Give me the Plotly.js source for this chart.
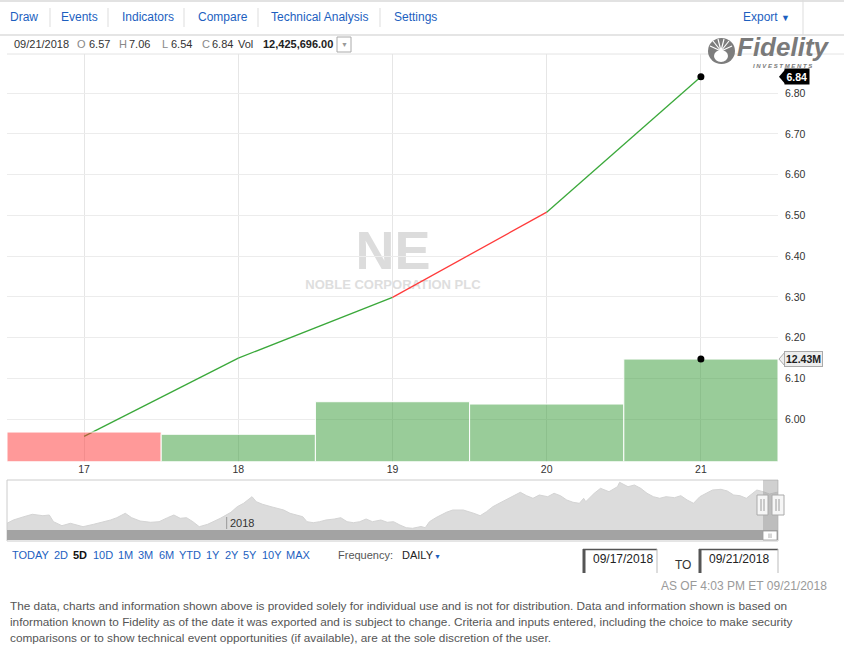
<!DOCTYPE html>
<html><head><meta charset="utf-8">
<script src="https://cdn.plot.ly/plotly-3.0.1.min.js"></script>
<style>html,body{margin:0;padding:0;background:#fff;overflow:hidden}#chart{width:844px;height:649px}</style>
</head><body><div id="chart"></div>
<script>
// ---- data ----
const days = [17, 18, 19, 20, 21];
const dayLabels = ['17', '18', '19', '20', '21'];
const closes = [5.958, 6.150, 6.299, 6.508, 6.84];
const volumes = [3590000, 3320000, 7260000, 6980000, 12425696];
const volUp = [false, true, true, true, true];
const segUp = [true, true, false, true];
const priceTicks = [6.00, 6.10, 6.20, 6.30, 6.40, 6.50, 6.60, 6.70, 6.80];
const priceTickLabels = ['6.00', '6.10', '6.20', '6.30', '6.40', '6.50', '6.60', '6.70', '6.80'];
const ohlcLabels = ['O', 'H', 'L', 'C'];
const ohlcValues = [6.57, 7.06, 6.54, 6.84];
const lastDate = '09/21/2018';
const startDate = '09/17/2018';
const navStart = '2017-09-19';
const navEnd = '2018-09-19';
const navDay = [0,3,8,12,17,20,22,26,30,33,36,41,46,49,52,56,59,63,68,72,76,79,82,85,88,91,95,98,101,106,109,112,114,116,118,121,125,128,131,134,137,140,142,145,148,151,155,158,161,164,167,170,173,177,180,183,186,189,192,196,198,200,203,208,211,216,221,224,227,230,233,237,240,243,246,249,252,256,259,262,265,268,271,273,274,278,281,283,285,289,290,294,297,300,303,306,309,312,316,319,322,325,328,331,334,338,341,344,347,350,353,355,358,361,365];
const navLevel = [6.7,10,13.3,15.7,14.3,15,8.3,4.3,6.7,5,3.3,5.7,8.3,10,12.3,16.7,12.3,9,7.7,8.3,12.3,15,11.7,12.3,8.3,3.3,5.7,8.3,11.7,17.7,23.3,26.7,30,33.3,28.3,25.7,23.3,21.7,20,16.7,15,13.3,8.3,7.3,8.3,10,11,12.3,8.3,7.3,8.3,11,8.3,10,7.7,8.3,5,2.3,1.7,3.5,2.3,8.3,12.3,17.7,20,20,16.7,14.3,18.3,23.3,26.7,31,35,37.7,34.3,31.7,35,33.3,36.7,34.3,30,27.7,26.7,31.7,28.3,36.7,41.7,40,38.3,43.3,47.7,43.3,45,41.7,36.7,33.3,31.7,33.3,32.3,34.3,30,26.7,33.3,36.7,40,40.7,39,35,34.3,31.7,36.7,40,38.3,36,38];
const navYearTick = '2018-01-01';
const toolbarItems = ['Draw', 'Events', 'Indicators', 'Compare', 'Technical Analysis', 'Settings'];
const rangeItems = ['TODAY', '2D', '5D', '10D', '1M', '3M', '6M', 'YTD', '1Y', '2Y', '5Y', '10Y', 'MAX'];
const activeRange = '5D';
const footerLines = [
 'The data, charts and information shown above is provided solely for individual use and is not for distribution. Data and information shown is based on',
 'information known to Fidelity as of the date it was exported and is subject to change. Criteria and inputs entered, including the choice to make security',
 'comparisons or to show technical event opportunities (if available), are at the sole discretion of the user.'
];

// ---- layout helpers ----
const W = 844, H = 649;
const FONT = 'Liberation Sans, Arial, Helvetica, sans-serif';
const X = p => p / W, Y = p => 1 - p / H;
const BLUE = '#1d5fbf';
const ann = [], shp = [];
function T(x, y, text, size, color, extra) {
  ann.push(Object.assign({xref:'paper', yref:'paper', x:X(x), y:Y(y), xanchor:'left', yanchor:'middle',
    showarrow:false, text:text, font:{size:size, color:color, family:FONT}}, extra || {}));
}
function L(x0, y0, x1, y1, color, width) {
  shp.push({type:'line', xref:'paper', yref:'paper', x0:X(x0), y0:Y(y0), x1:X(x1), y1:Y(y1), line:{color:color, width:width || 1}});
}
function R(x0, y0, x1, y1, fill, lineColor, lw) {
  shp.push({type:'rect', xref:'paper', yref:'paper', x0:X(x0), y0:Y(y0), x1:X(x1), y1:Y(y1), fillcolor:fill,
    line:{color:lineColor || 'rgba(0,0,0,0)', width:lineColor ? (lw || 1) : 0}});
}

// ---- traces ----
const traces = [];
traces.push({type:'bar', x:days, y:volumes, yaxis:'y2', xaxis:'x', width:1,
  marker:{color:volUp.map(u => u ? 'rgba(51,153,51,0.5)' : 'rgba(255,51,51,0.5)'), line:{color:'#ffffff', width:1}},
  hoverinfo:'skip', showlegend:false});
for (let i = 0; i < days.length - 1; i++) {
  traces.push({type:'scatter', mode:'lines', x:[days[i], days[i+1]], y:[closes[i], closes[i+1]], xaxis:'x', yaxis:'y',
    line:{color: segUp[i] ? '#3aa83a' : '#ff3b3b', width:1.3}, hoverinfo:'skip', showlegend:false});
}
const n = days.length - 1;
traces.push({type:'scatter', mode:'markers', x:[days[n]], y:[closes[n]], xaxis:'x', yaxis:'y', marker:{color:'#000', size:7}, showlegend:false, hoverinfo:'skip'});
traces.push({type:'scatter', mode:'markers', x:[days[n]], y:[volumes[n]], xaxis:'x', yaxis:'y2', marker:{color:'#000', size:7}, showlegend:false, hoverinfo:'skip'});
const navDates = navDay.map(d => new Date(Date.UTC(2017, 8, 19) + d * 864e5).toISOString().slice(0, 10));
traces.push({type:'scatter', mode:'lines', x:navDates, y:navLevel, xaxis:'x2', yaxis:'y3', fill:'tozeroy',
  fillcolor:'#dcdcdc', line:{color:'#d4d4d4', width:1}, showlegend:false, hoverinfo:'skip'});

// ---- page chrome ----
L(0, 1, W, 1, '#e2e2e2', 2);
const tbX = [8, 59, 120, 196, 269, 392];
toolbarItems.forEach((t, i) => T(tbX[i], 17, t, 12, BLUE));
[50, 108, 184, 258, 380].forEach(x => L(x, 8, x, 27, '#dddddd', 1));
T(741, 17, 'Export <span style="font-size:9px">▼</span>', 12, BLUE);
L(803, 0, 803, 35, '#dddddd', 1);
L(0, 35, W, 35, '#dddddd', 1.5);
// OHLC header
T(12, 44, lastDate, 11, '#333');
const ohX = [75, 117, 160, 200];
const ohVX = [87, 127, 169, 210];
ohlcLabels.forEach((l, i) => {
  T(ohX[i], 44, l, 11, '#888');
  T(ohVX[i], 44, ohlcValues[i].toFixed(2), 11, '#333');
});
T(236, 44, 'Vol', 11, '#333');
T(261, 44, '<b>' + volumes[n].toLocaleString('en-US', {minimumFractionDigits:2}) + '</b>', 11, '#222');
R(337, 37, 351, 52, '#fff', '#aaaaaa', 1);
T(344, 44.5, '▼', 7, '#999', {xanchor:'center'});
L(7, 54, W, 54, '#e4e4e4', 1);
// Fidelity logo
shp.push({type:'circle', xref:'paper', yref:'paper', x0:X(708), y0:Y(64), x1:X(735), y1:Y(38), fillcolor:'#7d7d7d', line:{width:0}});
[[721,51,710,46],[721,51,713,41],[721,51,718,39],[721,51,724,39],[721,51,729,41],[721,51,732,46]].forEach(a => L(a[0], a[1], a[2], a[3], '#ffffff', 1.2));
shp.push({type:'circle', xref:'paper', yref:'paper', x0:X(714), y0:Y(62), x1:X(728), y1:Y(50), fillcolor:'#ffffff', line:{width:0}});
T(735, 47.5, '<b><i>Fidelity</i></b>', 26, '#7a7a7a');
T(751, 66.5, '<b><i>I N V E S T M E N T S</i></b>', 6, '#7a7a7a');

// watermark (below traces)
shp.push({type:'rect', xref:'paper', yref:'paper', x0:X(330), x1:X(456), y0:Y(268), y1:Y(222), layer:'below',
  line:{width:0}, fillcolor:'rgba(0,0,0,0)',
  label:{text:'NE', textposition:'middle center', font:{size:54, color:'#dcdcdc', family:FONT, weight:'bold'}}});
shp.push({type:'rect', xref:'paper', yref:'paper', x0:X(290), x1:X(496), y0:Y(291), y1:Y(275), layer:'below',
  line:{width:0}, fillcolor:'rgba(0,0,0,0)',
  label:{text:'NOBLE CORPORATION PLC', textposition:'middle center', font:{size:13, color:'#dedede', family:FONT, weight:'bold'}}});

// last value tags
const cHalf = 7 / 407.5, vHalf = 7 * 49.35e6 / 407.7;
shp.push({type:'path', xref:'paper', yref:'y', fillcolor:'#000', line:{width:0},
  path:`M ${X(779)},${closes[n]} L ${X(785)},${closes[n] + cHalf} L ${X(785)},${closes[n] - cHalf} Z`});
ann.push({xref:'paper', yref:'y', x:X(784), y:closes[n], xanchor:'left', yanchor:'middle', showarrow:false,
  text:'<b>' + closes[n].toFixed(2) + '</b>', bgcolor:'#000', borderpad:1.5, font:{size:10.5, color:'#fff', family:FONT}});
shp.push({type:'path', xref:'paper', yref:'y2', fillcolor:'#eeeeee', line:{color:'#aaaaaa', width:1},
  path:`M ${X(779)},${volumes[n]} L ${X(785)},${volumes[n] + vHalf} L ${X(785)},${volumes[n] - vHalf} Z`});
ann.push({xref:'paper', yref:'y2', x:X(784), y:volumes[n], xanchor:'left', yanchor:'middle', showarrow:false,
  text:'<b>' + (volumes[n] / 1e6).toFixed(2) + 'M</b>', bgcolor:'#eeeeee', bordercolor:'#aaaaaa', borderwidth:1, borderpad:1,
  font:{size:10.5, color:'#222', family:FONT}});

// navigator chrome
R(7, 480, 778, 541, 'rgba(0,0,0,0)', '#cccccc', 1);
R(7, 530, 778, 540, '#a3a3a3');
R(763, 480, 778, 530, 'rgba(150,150,150,0.45)');
R(763, 531, 777, 540, '#ffffff', '#999999', 0.8);
L(769, 533.5, 769, 538, '#999', 0.8); L(771, 533.5, 771, 538, '#999', 0.8);
R(757, 495, 768, 515, '#f6f6f6', '#aaaaaa', 1);
R(772, 495, 784, 515, '#f6f6f6', '#aaaaaa', 1);
L(761, 499, 761, 511, '#888', 0.8); L(764, 499, 764, 511, '#888', 0.8);
L(776, 499, 776, 511, '#888', 0.8); L(779, 499, 779, 511, '#888', 0.8);
shp.push({type:'line', xref:'x2', yref:'paper', x0:navYearTick, x1:navYearTick, y0:Y(517), y1:Y(529), line:{color:'#999', width:1}});
ann.push({xref:'x2', yref:'paper', x:navYearTick, y:Y(522.5), xanchor:'left', yanchor:'middle', xshift:1, showarrow:false,
  text:navYearTick.slice(0, 4), font:{size:11, color:'#333', family:FONT}});

// range buttons
const rbX = [10, 52, 71, 91, 116, 136, 157, 177, 204, 223, 241, 260, 284];
rangeItems.forEach((t, i) => {
  if (t === activeRange) T(rbX[i], 555, '<b>' + t + '</b>', 11, '#111');
  else T(rbX[i], 555, t, 11, BLUE);
});
T(336, 555, 'Frequency:', 11, '#555');
T(400, 555, 'DAILY', 11, '#222');
T(432, 556, '▼', 7, BLUE);
// date boxes
function dateBox(x0, x1, text) {
  L(x0 + 1, 549, x0 + 1, 573, '#555', 3);
  L(x0, 549.5, x1, 549.5, '#555', 1.5);
  L(x1, 549, x1, 573, '#bbbbbb', 1);
  T(x0 + 8, 559, text, 12, '#222');
}
dateBox(583, 657, startDate);
T(673, 565, 'TO', 12, '#333');
dateBox(699, 778, lastDate);
T(829, 586, 'AS OF 4:03 PM ET ' + lastDate, 12, '#9a9a9a', {xanchor:'right'});
footerLines.forEach((t, i) => T(8, 606 + i * 16, t, 11.8, '#555'));

const layout = {
  width: W, height: H, margin:{l:0, r:0, t:0, b:0},
  paper_bgcolor:'#fff', plot_bgcolor:'rgba(0,0,0,0)', showlegend:false,
  font:{family:FONT, color:'#333'},
  xaxis:{domain:[X(7), X(778)], range:[16.5, 21.5], tickvals:days, ticktext:dayLabels, showgrid:true, gridcolor:'#e6e6e6',
    zeroline:false, showline:false, ticks:'', tickfont:{size:10.5, color:'#333'}, anchor:'y', fixedrange:true},
  yaxis:{domain:[Y(461.7), Y(54)], range:[5.896, 6.896], side:'right', tickvals:priceTicks, ticktext:priceTickLabels,
    showgrid:true, gridcolor:'#ececec', zeroline:false, showline:false, ticks:'', ticklabelstandoff:6,
    tickfont:{size:10.5, color:'#333'}, anchor:'x', fixedrange:true},
  yaxis2:{overlaying:'y', range:[0, 49.35e6], visible:false, fixedrange:true},
  xaxis2:{domain:[X(7), X(778)], type:'date', range:[navStart, navEnd], anchor:'y3', showgrid:false, showticklabels:false,
    zeroline:false, showline:false, ticks:'', fixedrange:true},
  yaxis3:{domain:[Y(530), Y(480)], range:[0, 50], visible:false, fixedrange:true, anchor:'x2'},
  annotations: ann, shapes: shp
};
Plotly.newPlot('chart', traces, layout, {displayModeBar:false, staticPlot:true});
</script></body></html>
